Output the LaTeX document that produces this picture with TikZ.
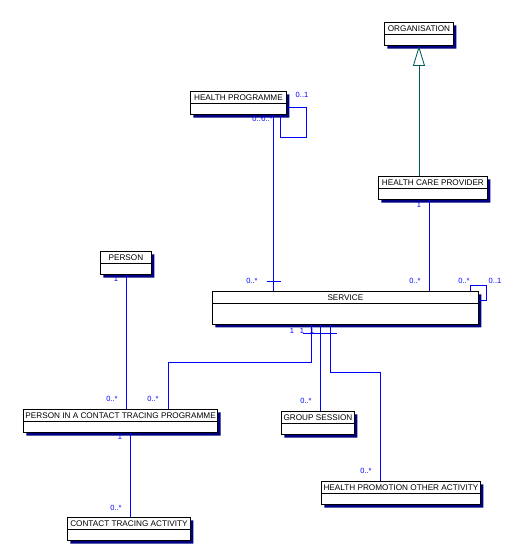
\documentclass[tikz,border=0pt]{standalone}
\usepackage{fontspec}
\setmainfont{Liberation Sans}
\usetikzlibrary{shapes,arrows,arrows.meta,positioning,calc,shadows}
\definecolor{navyshade}{RGB}{0,0,128}
\definecolor{assocblue}{RGB}{0,0,255}
\definecolor{gencolor}{RGB}{0,90,90}

\tikzset{
  umlclass/.style={draw, fill=white, line width=0.9pt, rectangle split, rectangle split parts=2,
    rectangle split empty part height=5pt, rectangle split empty part depth=0pt,
    minimum width=#1, inner xsep=2pt, inner ysep=2.5pt, text height=6pt, text depth=0pt,
    font=\fontsize{8.2}{9}\selectfont, anchor=north west,
    drop shadow={shadow xshift=3pt, shadow yshift=-3pt, fill=navyshade, opacity=1}},
  assoc/.style={draw=assocblue, line width=0.85pt},
  mult/.style={text=assocblue, font=\fontsize{7.5}{8}\selectfont, inner sep=0pt},
  generalise/.style={draw=gencolor, line width=0.85pt, -{Triangle[open, length=20pt, width=12pt]}}
}

\begin{document}
\begin{tikzpicture}[x=1pt, y=-1pt]
  \useasboundingbox (0,0) rectangle (516,552);

  % classes
  \node[umlclass=69pt] (org) at (384,22) {ORGANISATION};
  \node[umlclass=96pt] (hprog) at (190,91) {HEALTH PROGRAMME};
  \node[umlclass=109pt] (hcp) at (378,176) {HEALTH CARE PROVIDER};
  \node[umlclass=51pt] (person) at (100,251) {PERSON};
  \node[umlclass=266pt, rectangle split empty part height=15pt] (service) at (212,291) {SERVICE};
  \node[umlclass=194pt] (pictp) at (23,409) {PERSON IN A CONTACT TRACING PROGRAMME};
  \node[umlclass=73pt] (grp) at (281,411) {GROUP SESSION};
  \node[umlclass=123pt] (cta) at (67,517) {CONTACT TRACING ACTIVITY};
  \node[umlclass=159pt] (hpoa) at (321,481) {HEALTH PROMOTION OTHER ACTIVITY};

  % generalisation
  \draw[generalise] (hcp.north -| org.south) -- (org.south);

  % associations
  \draw[assoc] ([xshift=83.5pt]hprog.south west) coordinate (hp1) -- (hp1 |- service.north);
  \draw[assoc] ($(hp1 |- service.north)+(-7,-10)$) -- ++(14,0);
  \draw[assoc] ([yshift=8pt]hprog.south east) -| ++(20,30) -| ([xshift=-6pt]hprog.south east);
  \draw[assoc] ([xshift=51.5pt]hcp.south west) coordinate (hc1) -- (hc1 |- service.north);
  \draw[assoc] (person.south) -- (person.south |- pictp.north);
  \draw[assoc] ([xshift=-8pt]service.north east) |- ++(16,-6) |- ([yshift=-9pt]service.north east);
  \draw[assoc] ([xshift=99pt]service.south west) coordinate (sv1) -- ++(0,38) -| ([xshift=145pt]pictp.north west);
  \draw[assoc] ([xshift=108pt]service.south west) coordinate (sv2) -- (sv2 |- grp.north);
  \draw[assoc] ([xshift=118pt]service.south west) coordinate (sv3) -- ++(0,48) -| ([xshift=59pt]hpoa.north west);
  \draw[assoc] ($(sv1)+(-8,9)$) -- ++(34,0);
  \draw[assoc] ([xshift=107pt]pictp.south west) coordinate (pc1) -- (pc1 |- cta.north);

  % multiplicities
  \node[mult] (mhp1) at (302,95) {0..1};
  \node[mult] (mhp2) at (258,119) {0..*};
  \node[mult] (mhp3) at (267,119) {0..*};
  \node[mult] (mhc1) at (419,205) {1};
  \node[mult] (msv1) at (252,281) {0..*};
  \node[mult] (msv2) at (415,281) {0..*};
  \node[mult] (msv3) at (464,281) {0..*};
  \node[mult] (msv4) at (495,281) {0..1};
  \node[mult] (mpe1) at (116,279) {1};
  \node[mult] (msb1) at (292,331) {1};
  \node[mult] (msb2) at (302,331) {1};
  \node[mult] (msb3) at (312,331) {1};
  \node[mult] (mpi1) at (112,399) {0..*};
  \node[mult] (mpi2) at (153,399) {0..*};
  \node[mult] (mpi3) at (120,437) {1};
  \node[mult] (mgs1) at (306,401) {0..*};
  \node[mult] (mct1) at (116,508) {0..*};
  \node[mult] (mho1) at (366,471) {0..*};
\end{tikzpicture}
\end{document}
